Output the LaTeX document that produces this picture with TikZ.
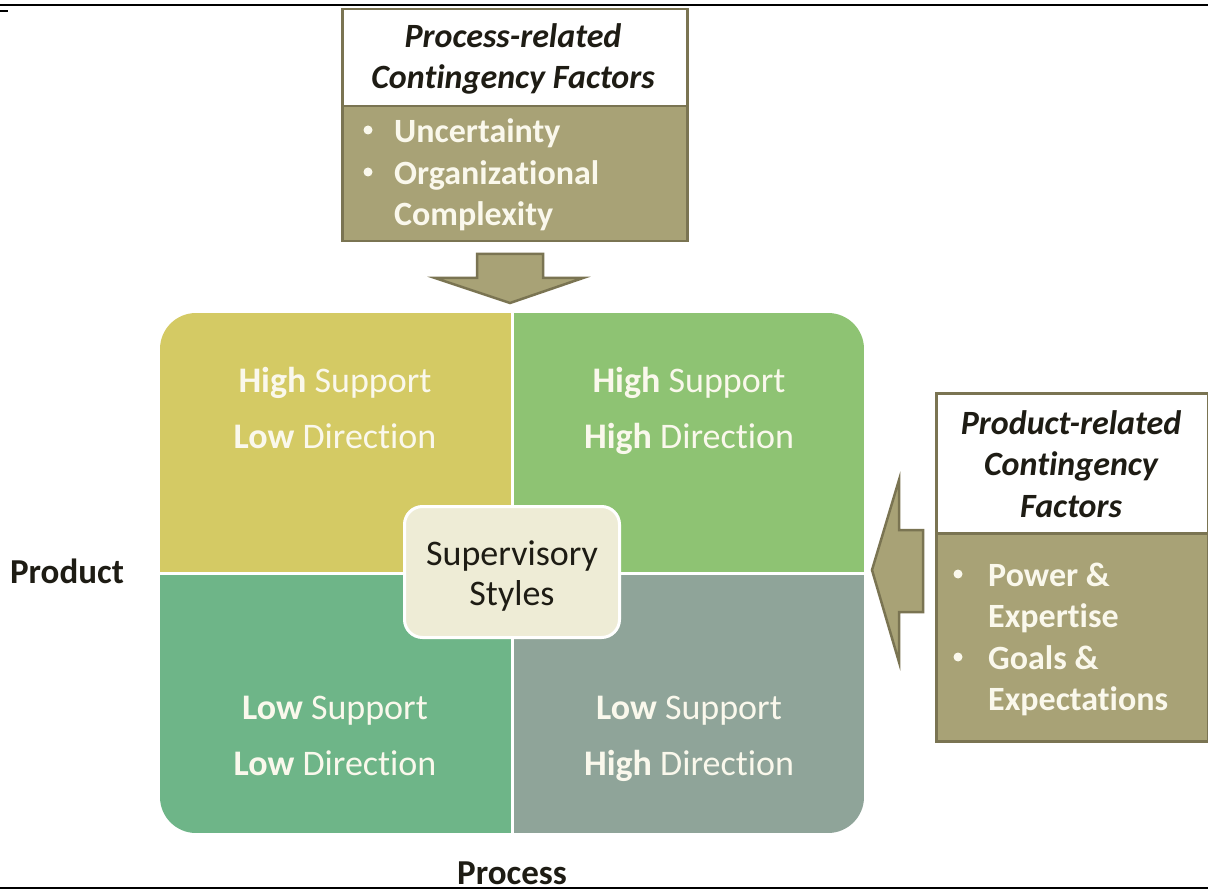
\documentclass[tikz,border=0pt]{standalone}
\usepackage{fontspec}
\setmainfont{Carlito}[Ligatures=NoCommon]
\definecolor{olive}{RGB}{168,162,118}
\definecolor{olivedark}{RGB}{122,116,82}
\definecolor{qyellow}{RGB}{212,202,100}
\definecolor{qgreen}{RGB}{142,195,115}
\definecolor{qteal}{RGB}{110,181,136}
\definecolor{qgrey}{RGB}{143,164,153}
\definecolor{cream}{RGB}{238,236,214}
\definecolor{txtw}{RGB}{250,248,236}
\definecolor{darktxt}{RGB}{30,28,20}
\begin{document}
\begin{tikzpicture}[x=1pt,y=-1pt,
  boxw/.style={draw=olivedark,line width=2.5pt,fill=white,anchor=north west,inner sep=0pt},
  boxo/.style={draw=olivedark,line width=2.5pt,fill=olive,anchor=north west,inner sep=0pt},
  head/.style={text=darktxt,font=\fontsize{34}{41.5}\selectfont\bfseries\itshape,align=center,inner sep=0pt},
  blt/.style={text=txtw,font=\fontsize{34}{41}\selectfont\bfseries,inner sep=0pt,text height=0.7em,text depth=0.2em},
  dot/.style={fill=txtw,circle,inner sep=0pt,minimum size=9pt},
  quadtxt/.style={text=txtw,font=\fontsize{36}{56}\selectfont,align=center,inner sep=0pt},
  axis/.style={text=darktxt,font=\fontsize{35}{40}\selectfont\bfseries,inner sep=0pt,text depth=0pt},
  arr/.style={fill=olive,draw=olivedark,line width=2.5pt,line join=miter}]
\useasboundingbox (0,0) rectangle (1208,893);
\fill[white] (0,0) rectangle (1208,893);
\draw[line width=2pt] (0,5) -- (1208,5);
\draw[line width=2pt] (0,888) -- (1208,888);
\draw[line width=1.5pt] (0,11) -- (8,11);

% process-related box
\node[boxw,minimum width=345pt,minimum height=97pt] (ptop) at (341,8) {};
\node[boxo,minimum width=345pt,minimum height=135pt] (pbot) at (341,105) {};
\node[head] (ptitle) at (513,59) {Process-related\\Contingency Factors};
\node[dot] (pb1) at (368,130) {};
\node[blt,anchor=west] (pt1) at (394,140) {Uncertainty};
\node[dot] (pb2) at (368,172) {};
\node[blt,anchor=west] (pt2) at (394,182) {Organizational};
\node[blt,anchor=west] (pt3) at (394,223) {Complexity};

% down arrow
\draw[arr] (477,254) -- (543,254) -- (543,278) -- (583,278) -- (510,303) -- (435,278) -- (477,278) -- cycle;

% quadrants
\begin{scope}
\clip[rounded corners=36pt] (160,313) rectangle (864,833);
\fill[qyellow] (160,313) rectangle (512,573);
\fill[qgreen] (512,313) rectangle (864,573);
\fill[qteal] (160,573) rectangle (512,833);
\fill[qgrey] (512,573) rectangle (864,833);
\end{scope}
\coordinate (vt) at (512,313);
\coordinate (vb) at (512,833);
\coordinate (hl) at (160,573);
\coordinate (hr) at (864,573);
\draw[white,line width=3pt] (vt) -- (vb);
\draw[white,line width=3pt] (hl) -- (hr);

\node[quadtxt] (q1) at (335,416) {\textbf{High} Support\\\textbf{Low} Direction\strut};
\node[quadtxt] (q2) at (689,416) {\textbf{High} Support\\\textbf{High} Direction\strut};
\node[quadtxt] (q3) at (335,744) {\textbf{Low} Support\\\textbf{Low} Direction\strut};
\node[quadtxt] (q4) at (689,744) {\textbf{Low} Support\\\textbf{High} Direction\strut};

% center
\node[draw=white,line width=3pt,fill=cream,rounded corners=18pt,minimum width=215pt,minimum height=131pt,inner sep=0pt,
  text=darktxt,font=\fontsize{36}{40}\selectfont,align=center] (center) at (512,572) {};
\node[text=darktxt,font=\fontsize{36}{40}\selectfont,align=center,inner sep=0pt] (centertxt) at (512,576) {Supervisory\\Styles};

% product-related box
\node[boxw,minimum width=272pt,minimum height=140pt] (rtop) at (935,392) {};
\node[boxo,minimum width=272pt,minimum height=208pt] (rbot) at (935,532) {};
\node[head] (rtitle) at (1071,464) {Product-related\\Contingency\\Factors};
\node[dot] (rb1) at (958,574) {};
\node[blt,anchor=west] (rt1) at (988,584) {Power \&};
\node[blt,anchor=west] (rt2) at (988,625) {Expertise};
\node[dot] (rb2) at (958,657) {};
\node[blt,anchor=west] (rt3) at (988,667) {Goals \&};
\node[blt,anchor=west] (rt4) at (988,708) {Expectations};

% left arrow
\draw[arr] (923,530) -- (923,612) -- (899,612) -- (899,662) -- (872,570) -- (899,480) -- (899,530) -- cycle;

% axis labels
\node[axis] (product) at (67,571) {Product};
\node[axis,anchor=base] (process) at (512,884) {Process};
\end{tikzpicture}
\end{document}
